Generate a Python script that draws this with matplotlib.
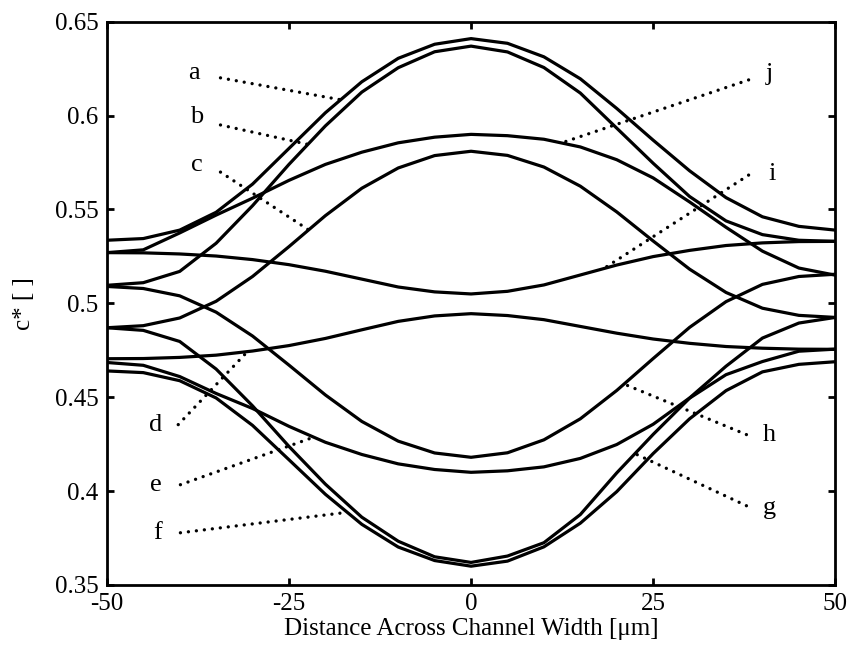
import numpy as np
import matplotlib
matplotlib.use("Agg")
import matplotlib.pyplot as plt

# distance across channel width [um]
x_um = [-50, -45, -40, -35, -30, -25, -20, -15, -10, -5, 0,
        5, 10, 15, 20, 25, 30, 35, 40, 45, 50]

curve_a = [0.5336, 0.5345, 0.539, 0.5485, 0.5635, 0.5825, 0.6015, 0.618, 0.6305, 0.638, 0.641,
           0.6385, 0.6313, 0.6196, 0.6038, 0.5869, 0.5706, 0.5563, 0.5461, 0.541, 0.539]
curve_b = [0.5096, 0.511, 0.517, 0.532, 0.552, 0.574, 0.5945, 0.6125, 0.6255, 0.634, 0.637,
           0.6339, 0.6256, 0.612, 0.5933, 0.5746, 0.5569, 0.5439, 0.5366, 0.5336, 0.533]
curve_c = [0.487, 0.4881, 0.4922, 0.5011, 0.5143, 0.5302, 0.5467, 0.5613, 0.5721, 0.5787, 0.581,
           0.5788, 0.5726, 0.5624, 0.5487, 0.5332, 0.5182, 0.5058, 0.4974, 0.4936, 0.4925]
curve_d = [0.4705, 0.4706, 0.4712, 0.4724, 0.4746, 0.4775, 0.4813, 0.4859, 0.4904, 0.4933, 0.4945,
           0.4935, 0.4913, 0.4877, 0.4841, 0.481, 0.4787, 0.477, 0.4761, 0.4756, 0.4755]
curve_e = [0.4685, 0.467, 0.461, 0.452, 0.444, 0.4345, 0.426, 0.4195, 0.4145, 0.4115, 0.410,
           0.4108, 0.4129, 0.4174, 0.4248, 0.4356, 0.4496, 0.4665, 0.4815, 0.4895, 0.4925]
curve_f = [0.464, 0.4631, 0.4588, 0.4496, 0.435, 0.4167, 0.3983, 0.3823, 0.3702, 0.363, 0.360,
           0.3627, 0.3703, 0.3829, 0.3997, 0.420, 0.4385, 0.4535, 0.4635, 0.4675, 0.4689]
curve_g = [0.487, 0.4856, 0.4797, 0.465, 0.4454, 0.4238, 0.4037, 0.3861, 0.3733, 0.365, 0.362,
           0.3654, 0.3725, 0.3875, 0.4097, 0.4302, 0.4495, 0.462, 0.469, 0.4745, 0.4756]
curve_h = [0.509, 0.5079, 0.504, 0.4953, 0.4826, 0.4671, 0.4512, 0.4371, 0.4266, 0.4203, 0.418,
           0.4204, 0.4273, 0.4385, 0.4536, 0.4706, 0.4872, 0.5009, 0.5101, 0.5143, 0.5155]
curve_i = [0.527, 0.5269, 0.5263, 0.5252, 0.5233, 0.5206, 0.5171, 0.5129, 0.5087, 0.5061, 0.505,
           0.5064, 0.5098, 0.5151, 0.5204, 0.5249, 0.5282, 0.5308, 0.5322, 0.5329, 0.533]
curve_j = [0.527, 0.5285, 0.5375, 0.547, 0.556, 0.5655, 0.574, 0.5805, 0.5855, 0.5885, 0.590,
           0.5893, 0.5874, 0.5833, 0.5765, 0.5668, 0.554, 0.5405, 0.5278, 0.5188, 0.515]

curves = {"a": curve_a, "b": curve_b, "c": curve_c, "d": curve_d, "e": curve_e,
          "f": curve_f, "g": curve_g, "h": curve_h, "i": curve_i, "j": curve_j}

# label text position, dotted leader start, x where the leader meets its curve
label_text = {"a": (-38.0, 0.6228), "b": (-37.7, 0.5993), "c": (-37.7, 0.5736),
              "d": (-43.3, 0.4354), "e": (-43.3, 0.4034), "f": (-43.1, 0.3778),
              "g": (41.0, 0.3911), "h": (41.0, 0.4301), "i": (41.3, 0.5689), "j": (40.9, 0.6222)}
leader_start = {"a": (-34.4, 0.6201), "b": (-34.4, 0.5950), "c": (-34.4, 0.5699),
                "d": (-40.2, 0.4354), "e": (-39.9, 0.4034), "f": (-39.9, 0.3778),
                "g": (37.8, 0.3922), "h": (37.8, 0.4301), "i": (38.1, 0.5683), "j": (38.1, 0.6190)}
leader_end_x = {"a": -17.9, "b": -22.4, "c": -22.3, "d": -30.7, "e": -21.6,
                "f": -17.0, "g": 22.5, "h": 21.0, "i": 18.2, "j": 12.4}

x_ticks = [-50, -25, 0, 25, 50]
y_ticks = [0.35, 0.4, 0.45, 0.5, 0.55, 0.6, 0.65]
y_tick_labels = ["0.35", "0.4", "0.45", "0.5", "0.55", "0.6", "0.65"]

plt.rcParams["font.family"] = ["Liberation Serif", "DejaVu Serif"]
fig = plt.figure(figsize=(8.48, 6.58), dpi=100)
ax = fig.add_axes([0.126, 0.111, 0.859, 0.856])

for key, vals in curves.items():
    ax.plot(x_um, vals, color="black", lw=2.3, solid_joinstyle="round")

for key in curves:
    sx, sy = leader_start[key]
    ex = leader_end_x[key]
    ey = np.interp(ex, x_um, curves[key])
    ax.plot([sx, ex], [sy, ey], color="black", lw=2.4,
            linestyle=(0, (0.01, 2.4)), dash_capstyle="round")
    tx, ty = label_text[key]
    ax.text(tx, ty, key, fontsize=19, ha="center", va="center")

ax.set_xlim(-50, 50)
ax.set_ylim(0.35, 0.65)
ax.set_xticks(x_ticks)
ax.set_xticklabels([str(t) for t in x_ticks])
ax.set_yticks(y_ticks)
ax.set_yticklabels(y_tick_labels)
ax.tick_params(direction="in", length=5, width=2, top=True, right=True,
               labelsize=18, pad=6)
for sp in ax.spines.values():
    sp.set_linewidth(2)
ax.set_xlabel("Distance Across Channel Width [\u03bcm]", fontsize=18, labelpad=2)
ax.set_ylabel("c* [ ]", fontsize=18, labelpad=14)

fig.savefig("out.png", dpi=100)
